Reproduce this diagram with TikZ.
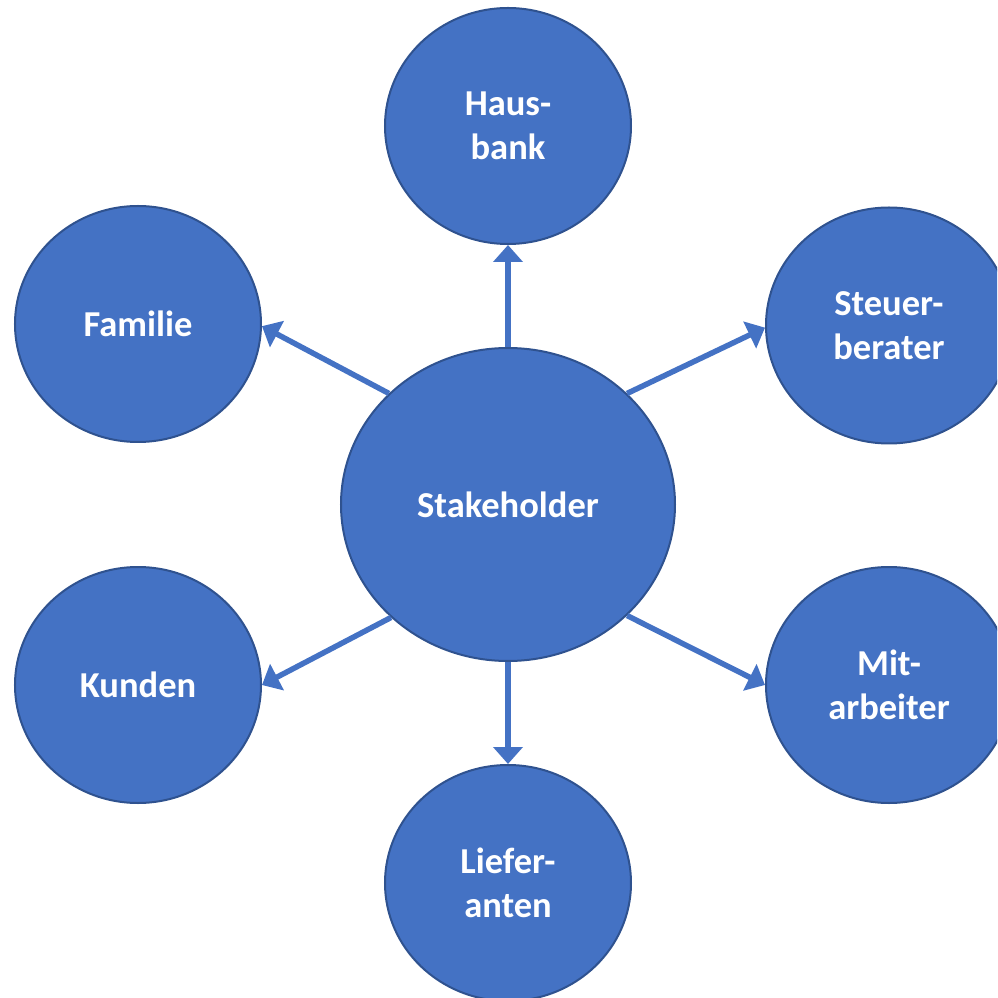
\documentclass[tikz,border=0pt]{standalone}
\usepackage{fontspec}
\setmainfont{Carlito}
\usepackage{tikz}
\usetikzlibrary{arrows.meta}
\usetikzlibrary{positioning}
\usetikzlibrary{shapes.geometric}

\definecolor{kreisblau}{HTML}{4472C4}
\definecolor{randblau}{HTML}{2F528F}

\begin{document}
\begin{tikzpicture}[x=1pt,y=1pt,on grid,
	kreis/.style={ellipse, draw=randblau, fill=kreisblau, line width=2pt, inner sep=0pt,
		minimum width=246pt, minimum height=236pt, text=white, align=center,
		font=\bfseries\fontsize{36.5}{44.5}\selectfont},
	pfeil/.style={draw=kreisblau, line width=5.5pt, -{Triangle[length=17pt,width=29pt]}}]
	\path[use as bounding box, clip] (-508,-493.5) rectangle (489,504.5);

	\node[kreis, minimum width=334pt, minimum height=313pt] (S) {Stakeholder};
	\node[kreis] (H) [above=378.5pt of S] {Haus-\\bank};
	\node[kreis] (F) [above left=180.5pt and 370pt of S] {Familie};
	\node[kreis] (B) [above right=179pt and 381pt of S] {Steuer-\\berater};
	\node[kreis] (K) [below left=180.5pt and 370pt of S] {Kunden};
	\node[kreis] (M) [below right=180.5pt and 381pt of S] {Mit-\\arbeiter};
	\node[kreis] (L) [below=378.5pt of S] {Liefer-\\anten};

	\draw[pfeil] (S.north) to (H.south);
	\draw[pfeil] (S.137) to (F.-1);
	\draw[pfeil] (S.43) to (B.181);
	\draw[pfeil] (S.224) to (K.east);
	\draw[pfeil] (S.-43) to (M.west);
	\draw[pfeil] (S.south) to (L.north);

\end{tikzpicture}
\end{document}
